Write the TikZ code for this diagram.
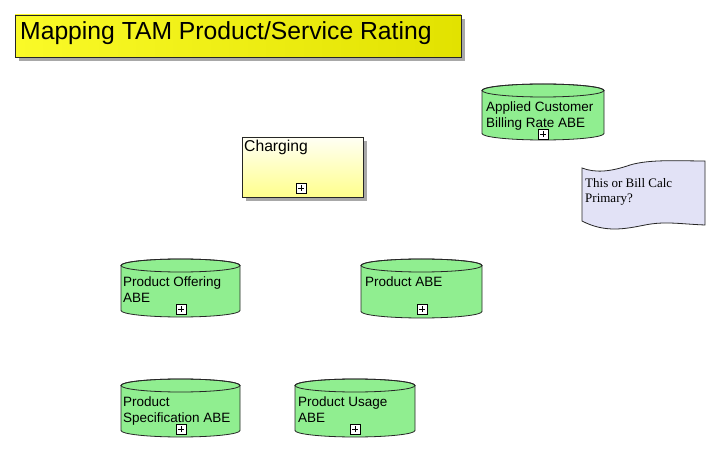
\documentclass[tikz,border=0pt]{standalone}
\usepackage{fontspec}
\setmainfont{Liberation Sans}
\newfontfamily\serifnote{Liberation Serif}
\usetikzlibrary{shadows}
\definecolor{cylgreen}{HTML}{90EE90}
\definecolor{notefill}{HTML}{E2E2F6}
\definecolor{shadowgray}{HTML}{A8A8A8}
\definecolor{titleL}{RGB}{250,250,40}
\definecolor{titleR}{RGB}{226,226,0}
\definecolor{chargeT}{RGB}{255,255,245}
\definecolor{chargeB}{RGB}{255,255,140}
\tikzset{
  outline/.style={draw=black!85, line width=0.8pt},
  cylshape/.style={outline, fill=cylgreen},
  cylline/.style={outline},
  lbl/.style={anchor=north west, inner sep=0pt, align=left, font=\fontsize{13.5}{16}\selectfont},
  boxshadow/.style={drop shadow={shadow xshift=4pt, shadow yshift=-4pt, fill=shadowgray, opacity=1}},
  pbox/.style={draw=black, fill=white, minimum size=10pt, inner sep=0pt, line width=0.6pt,
    path picture={\draw[line width=0.6pt]
      ([xshift=-3pt]path picture bounding box.center) -- ([xshift=3pt]path picture bounding box.center)
      ([yshift=-3pt]path picture bounding box.center) -- ([yshift=3pt]path picture bounding box.center);}},
}
\newcommand{\mycyl}[4]{%
  \pgfmathsetmacro\cylcx{(#1+#2)/2}%
  \pgfmathsetmacro\cylrx{(#2-#1)/2}%
  \pgfmathsetmacro\cylta{453-#3-6.5}%
  \pgfmathsetmacro\cylba{453-#4+6.5}%
  \filldraw[cylshape] (#1,\cylta) -- (#1,\cylba) arc[start angle=180,end angle=360,x radius=\cylrx,y radius=6.5]
     -- (#2,\cylta) arc[start angle=0,end angle=180,x radius=\cylrx,y radius=6.5] -- cycle;
  \draw[cylline] (\cylcx,\cylta) ellipse[x radius=\cylrx,y radius=6.5];
}
\begin{document}
\begin{tikzpicture}[x=1pt,y=1pt]
\fill[white] (0,0) rectangle (718,453);
\useasboundingbox (0,0) rectangle (718,453);

% title
\node[boxshadow, outline, left color=titleL, right color=titleR, minimum width=446pt, minimum height=42pt, inner sep=0pt] (titlebox) at (238,417) {};
\node[anchor=base west, inner sep=0pt, font=\fontsize{24.7}{29}\selectfont] (title) at (20,413.5) {Mapping TAM Product/Service Rating};

% charging
\node[boxshadow, outline, top color=chargeT, bottom color=chargeB, minimum width=121pt, minimum height=60pt, inner sep=0pt] (chargebox) at (302.5,286) {};
\node[anchor=base west, inner sep=0pt, font=\fontsize{15.7}{18}\selectfont] (charging) at (244,301.5) {Charging};
\node[pbox] (pcharge) at (301,265) {};

% cylinders
\mycyl{482}{604}{84}{140}
\node[lbl] (applied) at (486,351.5) {Applied Customer\\Billing Rate ABE};
\node[pbox] (papplied) at (543,319) {};

\mycyl{121}{240}{259}{317}
\node[lbl] (offering) at (123,176.5) {Product Offering\\ABE};
\node[pbox] (poffering) at (181,144) {};

\mycyl{361}{482}{259}{318}
\node[lbl] (product) at (365,176.5) {Product ABE};
\node[pbox] (pproduct) at (422,144) {};

\mycyl{121}{240}{379}{437}
\node[lbl] (spec) at (123,56.5) {Product\\Specification ABE};
\node[pbox] (pspec) at (181,24) {};

\mycyl{295}{415}{379}{437}
\node[lbl] (usage) at (298,56.5) {Product Usage\\ABE};
\node[pbox] (pusage) at (355,24) {};

% note
\filldraw[outline, fill=notefill] (582,285) .. controls (595,280) and (610,281) .. (630,288)
  .. controls (650,294) and (680,292) .. (705,292) -- (705,228)
  .. controls (680,229) and (665,232) .. (645,228)
  .. controls (625,224) and (605,220) .. (582,232) -- cycle;
\node[anchor=north west, inner sep=0pt, align=left, font=\serifnote\fontsize{13}{15.5}\selectfont] (note) at (585,275) {This or Bill Calc\\Primary?};
\end{tikzpicture}
\end{document}
